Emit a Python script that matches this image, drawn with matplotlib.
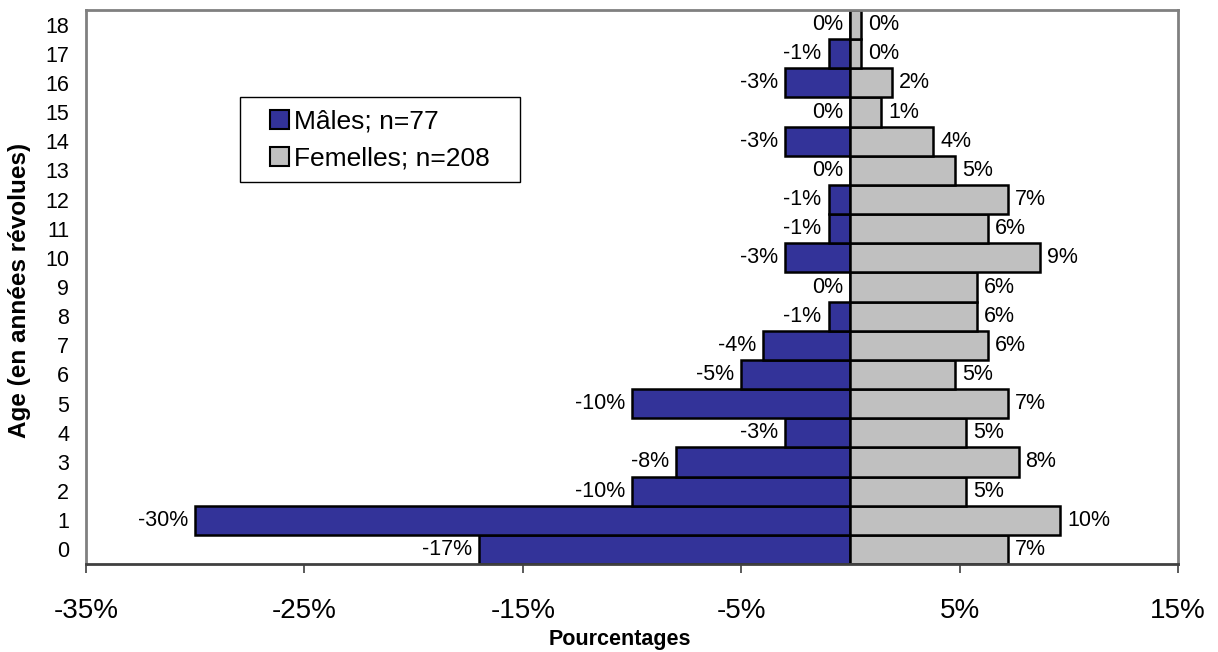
import numpy as np
import matplotlib
matplotlib.use("Agg")
import matplotlib.pyplot as plt
from matplotlib.patches import Patch, Rectangle

plt.rcParams['font.family'] = ['Liberation Sans', 'DejaVu Sans']

# ages 0..18, share of each sex in percent
ages = list(range(19))
males = [-17, -30, -10, -8, -3, -10, -5, -4, -1, 0, -3, -1, -1, 0, -3, 0, -3, -1, 0]
females = [7.2, 9.6, 5.3, 7.7, 5.3, 7.2, 4.8, 6.3, 5.8, 5.8, 8.7, 6.3, 7.2, 4.8, 3.8, 1.4, 1.9, 0.5, 0.5]
xticks = [-35, -25, -15, -5, 5, 15]
male_lab = "Mâles; n=77"
female_lab = "Femelles; n=208"

W, H = 1218, 652
fig = plt.figure(figsize=(W / 100, H / 100), dpi=100)
ax = fig.add_axes([86 / W, 1 - 564 / H, (1178 - 86) / W, (564 - 10) / H])

blue = '#333399'
grey = '#c0c0c0'
ax.barh(ages, males, height=1.0, color=blue, edgecolor='black', linewidth=1.8)
ax.barh(ages, females, height=1.0, color=grey, edgecolor='black', linewidth=1.8)

# value labels at the end of each bar
for a, m, f in zip(ages, males, females):
    ax.annotate(f"{m:.0f}%", (m, a), xytext=(-5, 0), textcoords='offset points',
                ha='right', va='center', fontsize=15.5)
    ax.annotate(f"{f:.0f}%", (f, a), xytext=(5, 0), textcoords='offset points',
                ha='left', va='center', fontsize=15.5)

ax.set_xlim(-35, 15)
ax.set_ylim(-0.5, 18.5)
ax.set_xticks(xticks)
ax.set_xticklabels([f"{t}%" for t in xticks], fontsize=20)
ax.set_yticks(ages)
ax.set_yticklabels([str(a) for a in ages], fontsize=15.5)
ax.tick_params(axis='y', length=0, pad=12)
ax.tick_params(axis='x', length=6.5, width=1.2, color='#404040', pad=18)

for side in ['left', 'top', 'right']:
    ax.spines[side].set_color('#808080')
    ax.spines[side].set_linewidth(2)
ax.spines['bottom'].set_color('#404040')
ax.spines['bottom'].set_linewidth(2)

fig.text(620 / W, 1 - 640 / H, "Pourcentages", ha='center', va='center',
         fontsize=15.5, fontweight='bold')
fig.text(20 / W, 1 - 290 / H, "Age (en années révolues)", ha='center', va='center',
         rotation=90, fontsize=17.5, fontweight='bold')

# legend box drawn separately so the padding can differ left/right
fig.patches.append(Rectangle((240 / W, 1 - 182 / H), 280 / W, 85 / H,
                             transform=fig.transFigure, facecolor='white',
                             edgecolor='black', linewidth=1.0, zorder=5))
handles = [Patch(facecolor=blue, edgecolor='black', linewidth=1.5),
           Patch(facecolor=grey, edgecolor='black', linewidth=1.5)]
leg = fig.legend(handles, [male_lab, female_lab], loc='center left',
                 bbox_to_anchor=(270 / W, 1 - 140 / H),
                 fontsize=19, frameon=False,
                 handlelength=0.72, handleheight=0.72, handletextpad=0.2,
                 borderpad=0, labelspacing=0.5, borderaxespad=0)
leg.set_zorder(6)

fig.savefig("out.png", dpi=100)
